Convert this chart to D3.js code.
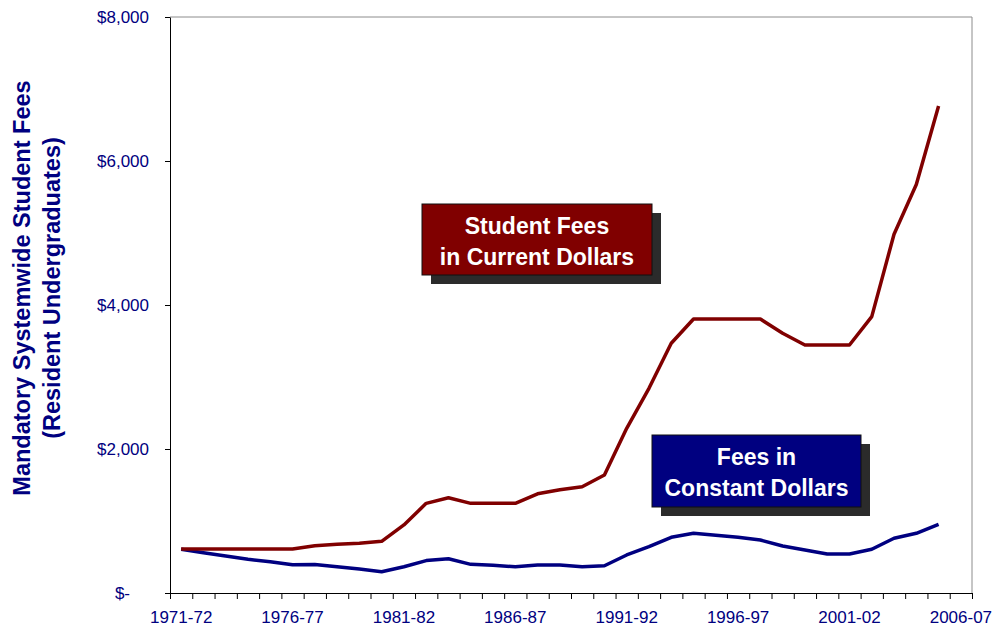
<!DOCTYPE html>
<html>
<head>
<meta charset="utf-8">
<script src="https://cdn.jsdelivr.net/npm/d3@7"></script>
<style>
  body { margin: 0; background: #fff; }
  svg { display: block; font-family: Arial, "Liberation Sans", sans-serif; }
</style>
</head>
<body>
<svg id="chart"></svg>
<script>
// academic years on the category axis
const years = ["1971-72","1972-73","1973-74","1974-75","1975-76","1976-77","1977-78","1978-79","1979-80","1980-81",
  "1981-82","1982-83","1983-84","1984-85","1985-86","1986-87","1987-88","1988-89","1989-90","1990-91",
  "1991-92","1992-93","1993-94","1994-95","1995-96","1996-97","1997-98","1998-99","1999-00","2000-01",
  "2001-02","2002-03","2003-04","2004-05","2005-06","2006-07"]
const labelYears = ["1971-72","1976-77","1981-82","1986-87","1991-92","1996-97","2001-02","2006-07"]

// fees, 1971-72 .. 2005-06
const currentFees = [610,610,610,610,610,610,657,676,690,718,
  946,1245,1322,1245,1245,1245,1378,1435,1475,1638,
  2287,2843,3468,3805,3805,3805,3805,3607,3444,3444,
  3444,3838,4983,5673,6764]
const constantFees = [607,560,515,468,435,392,395,365,333,296,
  365,450,476,398,384,365,389,389,365,379,
  528,643,773,829,801,773,736,652,597,541,
  541,607,760,829,954]

const yTicks = [0, 2000, 4000, 6000, 8000]

const w = 995
const h = 626
const margin = {top: 17, right: 23, bottom: 33, left: 170}
const navy = "#000080"
const maroon = "#800000"

const svg = d3.select("#chart").attr("width", w).attr("height", h)

const x = d3.scaleBand()
  .domain(years)
  .range([margin.left, w - margin.right])
const xEdge = d3.scaleLinear()
  .domain([0, years.length])
  .range([margin.left, w - margin.right])
const y = d3.scaleLinear()
  .domain([0, 8000])
  .range([h - margin.bottom, margin.top])

// grey frame top and right
svg.append("path")
  .attr("d", `M${margin.left},${margin.top}H${w - margin.right}V${h - margin.bottom}`)
  .attr("fill", "none")
  .attr("stroke", "#8c8c8c")
  .attr("stroke-width", 1)

// x axis: tick marks between categories, labels every 5 years
svg.append("g")
  .attr("transform", `translate(0,${h - margin.bottom})`)
  .call(d3.axisBottom(xEdge).ticks(years.length).tickFormat("").tickSize(6).tickSizeOuter(0))
  .call(g => g.selectAll("line,path").attr("stroke", "#000"))

svg.append("g")
  .attr("transform", `translate(0,${h - margin.bottom})`)
  .call(d3.axisBottom(x).tickValues(labelYears).tickSize(0).tickPadding(18))
  .call(g => g.select(".domain").remove())
  .call(g => g.selectAll("text")
    .attr("font-size", 17)
    .attr("font-family", "Arial, 'Liberation Sans', sans-serif")
    .attr("fill", navy))

// y axis
svg.append("g")
  .attr("transform", `translate(${margin.left},0)`)
  .call(d3.axisLeft(y).tickValues(yTicks).tickSize(5).tickSizeOuter(0).tickPadding(16)
    .tickFormat(d => d === 0 ? "$-" : "$" + d3.format(",")(d)))
  .call(g => g.selectAll("line,path").attr("stroke", "#000"))
  .call(g => g.selectAll("text")
    .attr("font-size", 17)
    .attr("font-family", "Arial, 'Liberation Sans', sans-serif")
    .attr("fill", navy)
    .attr("x", d => d === 0 ? -40 : -21))

// y axis title
const title = svg.append("text")
  .attr("transform", "translate(0,288) rotate(-90)")
  .attr("text-anchor", "middle")
  .attr("font-size", 23.5)
  .attr("font-weight", "bold")
  .attr("fill", navy)
title.append("tspan").attr("x", 0).attr("y", 30).text("Mandatory Systemwide Student Fees")
title.append("tspan").attr("x", 0).attr("y", 60).text("(Resident Undergraduates)")

// lines
const line = d3.line()
  .x((d, i) => x(years[i]) + x.bandwidth() / 2)
  .y(d => y(d))

svg.append("path")
  .datum(constantFees)
  .attr("d", line)
  .attr("fill", "none")
  .attr("stroke", navy)
  .attr("stroke-width", 3.5)
  .attr("stroke-linejoin", "round")

svg.append("path")
  .datum(currentFees)
  .attr("d", line)
  .attr("fill", "none")
  .attr("stroke", maroon)
  .attr("stroke-width", 3.5)
  .attr("stroke-linejoin", "round")

// annotation boxes with drop shadow
function labelBox(bx, by, bw, bh, fill, lines) {
  const g = svg.append("g")
  g.append("rect")
    .attr("x", bx + 9).attr("y", by + 9)
    .attr("width", bw).attr("height", bh)
    .attr("fill", "#2b2b2b")
  g.append("rect")
    .attr("x", bx).attr("y", by)
    .attr("width", bw).attr("height", bh)
    .attr("fill", fill)
    .attr("stroke", "#111")
    .attr("stroke-width", 1)
  lines.forEach((t, i) => {
    g.append("text")
      .attr("x", bx + bw / 2)
      .attr("y", by + 30 + i * 31)
      .attr("text-anchor", "middle")
      .attr("font-size", 23)
      .attr("font-weight", "bold")
      .attr("fill", "#fff")
      .text(t)
  })
}

labelBox(422, 204, 230, 71, maroon, ["Student Fees", "in Current Dollars"])
labelBox(652, 435, 209, 72, navy, ["Fees in", "Constant Dollars"])
</script>
</body>
</html>
